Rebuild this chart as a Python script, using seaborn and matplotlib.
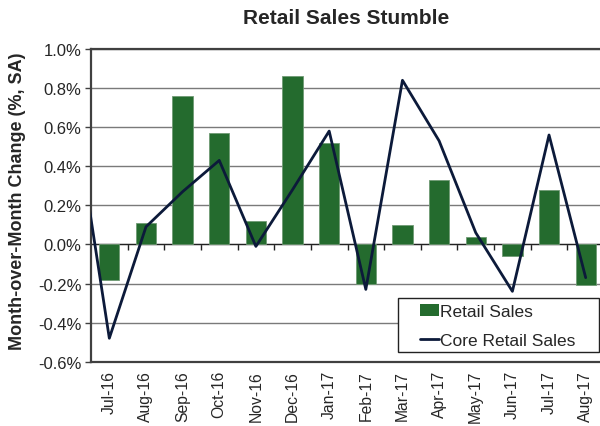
import numpy as np
import matplotlib
matplotlib.use("Agg")
import matplotlib.pyplot as plt
import seaborn as sns
from matplotlib.patches import Patch, Rectangle
from matplotlib.lines import Line2D
from matplotlib.ticker import FuncFormatter

# monthly change, % SA  (Jun-16 only shows as the clipped start of the line)
months = ['Jun-16', 'Jul-16', 'Aug-16', 'Sep-16', 'Oct-16', 'Nov-16', 'Dec-16',
          'Jan-17', 'Feb-17', 'Mar-17', 'Apr-17', 'May-17', 'Jun-17', 'Jul-17', 'Aug-17']
retail = [np.nan, -0.18, 0.11, 0.76, 0.57, 0.12, 0.86,
          0.52, -0.20, 0.10, 0.33, 0.04, -0.06, 0.28, -0.21]
core = [0.74, -0.48, 0.09, 0.27, 0.43, -0.01, 0.28,
        0.58, -0.23, 0.84, 0.53, 0.06, -0.24, 0.56, -0.17]
y_ticks = [-0.6, -0.4, -0.2, 0.0, 0.2, 0.4, 0.6, 0.8, 1.0]

green = '#246b2e'
navy = '#0c1a3a'
spine_col = '#404040'

sns.set_style('white')
plt.rcParams['font.family'] = ['Liberation Sans', 'DejaVu Sans']

W, H = 600, 427
ax_l, ax_b, ax_w, ax_h = 91, 64.3, 513, 312.7
fig = plt.figure(figsize=(6, 4.27), dpi=100)
ax = fig.add_axes([ax_l / W, ax_b / H, ax_w / W, ax_h / H])

sns.barplot(x=months, y=retail, order=months, color=green, saturation=1,
            width=0.555, errorbar=None, ax=ax, zorder=2,
            edgecolor='#6f9a74', linewidth=0.6)
sns.pointplot(x=months, y=core, order=months, color=navy, marker='',
              linewidth=2.0, errorbar=None, ax=ax, zorder=3)

ax.set_xlim(0.5, len(months) - 0.5)
ax.set_ylim(-0.6, 1.0)
ax.set_yticks(y_ticks)
ax.yaxis.set_major_formatter(FuncFormatter(lambda v, _: f'{v:.1f}%'))

ax.grid(axis='y', color='#7a7a7a', linewidth=1.0)
ax.grid(axis='x', visible=False)
ax.set_axisbelow(True)
ax.axhline(0, color='#222222', linewidth=0.9, zorder=1)

for s in ['top', 'left', 'bottom']:
    ax.spines[s].set_color(spine_col)
    ax.spines[s].set_linewidth(1.6)
ax.spines['right'].set_visible(False)

ax.tick_params(axis='y', direction='out', length=4, width=1, color=spine_col,
               labelsize=12, pad=3, left=True)
ax.tick_params(axis='x', length=0, labelsize=11.3, pad=6)
plt.setp(ax.get_xticklabels(), rotation=90, va='top', ha='center')

# tick marks on the zero line at the category boundaries
sec = ax.secondary_xaxis(0.6 / 1.6)
sec.set_xticks(np.arange(1.5, len(months) - 0.5, 1.0))
sec.tick_params(axis='x', direction='out', length=4, width=1, color='#222222',
                labelbottom=False)
sec.spines['bottom'].set_visible(False)

ax.set_xlabel('')
ax.set_ylabel('Month-over-Month Change (%, SA)', fontsize=13, fontweight='bold')
ax.yaxis.set_label_coords((26 - ax_l) / ax_w, 0.515)

fig.text(346 / W, 1 - 19 / H, 'Retail Sales Stumble', ha='center', va='center',
         fontsize=15, fontweight='bold')

# legend: Excel-like box with generous side padding
box_x0, box_x1, box_y0, box_y1 = 398, 599, 299, 353
fig.patches.append(Rectangle((box_x0 / W, 1 - box_y1 / H), (box_x1 - box_x0) / W,
                             (box_y1 - box_y0) / H, transform=fig.transFigure,
                             facecolor='white', edgecolor='#222222', linewidth=1.0,
                             zorder=4))
handles = [Patch(facecolor=green, edgecolor='none'),
           Line2D([0], [0], color=navy, linewidth=2.0)]
leg = fig.legend(handles, ['Retail Sales', 'Core Retail Sales'], loc='upper left',
                 bbox_to_anchor=(420 / W, 1 - 305 / H), fontsize=12.5, frameon=False,
                 handlelength=1.1, handletextpad=0.05, borderpad=0.0,
                 labelspacing=0.78, borderaxespad=0)
leg.set_zorder(5)

fig.savefig('out.png', dpi=100)
